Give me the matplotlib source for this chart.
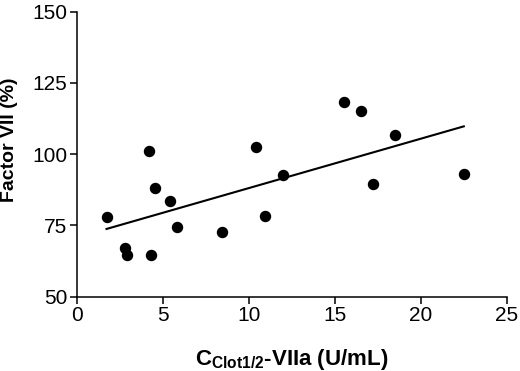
import matplotlib
matplotlib.use('Agg')
import matplotlib.pyplot as plt

plt.rcParams['font.family'] = ['Liberation Sans', 'DejaVu Sans']
plt.rcParams['mathtext.fontset'] = 'custom'
plt.rcParams['mathtext.rm'] = 'Liberation Sans'
plt.rcParams['mathtext.bf'] = 'Liberation Sans:bold'

# data
clot_vii = [1.7, 2.8, 2.9, 4.2, 4.3, 4.5, 5.4, 5.8, 8.4, 10.4, 10.9, 12.0,
            15.5, 16.5, 18.5, 17.2, 22.5]
factor_vii = [77.8, 66.9, 64.4, 101.0, 64.4, 87.9, 83.6, 74.4, 72.6, 102.3, 78.4, 92.8,
              118.4, 115.0, 106.8, 89.5, 93.1]
fit_x = [1.7, 22.5]
fit_y = [73.7, 109.7]

xticks = [0, 5, 10, 15, 20, 25]
yticks = [50, 75, 100, 125, 150]

fig = plt.figure(figsize=(5.2, 3.71), dpi=100)
ax = fig.add_axes([0.1487, 0.2008, 0.8258, 0.7682])

ax.scatter(clot_vii, factor_vii, s=52, color='black', zorder=3)
ax.plot(fit_x, fit_y, color='black', lw=1.5)

ax.set_xlim(0, 25)
ax.set_ylim(50, 150)
ax.set_xticks(xticks)
ax.set_yticks(yticks)
ax.tick_params(labelsize=15, width=1.1, length=5, direction='out', pad=2)

ax.spines['right'].set_color('none')
ax.spines['top'].set_color('none')
ax.spines['left'].set_linewidth(1.1)
ax.spines['bottom'].set_linewidth(1.1)

ax.set_ylabel('Factor VII (%)', fontsize=14, fontweight='bold')
ax.yaxis.set_label_coords(-0.138, 0.55)
ax.set_xlabel(r'$\mathbf{C}_{\mathbf{Clot1/2}}$-VIIa (U/mL)', fontsize=16, fontweight='bold')
ax.xaxis.set_label_coords(0.5, -0.178)

fig.savefig('out.png', dpi=100)
